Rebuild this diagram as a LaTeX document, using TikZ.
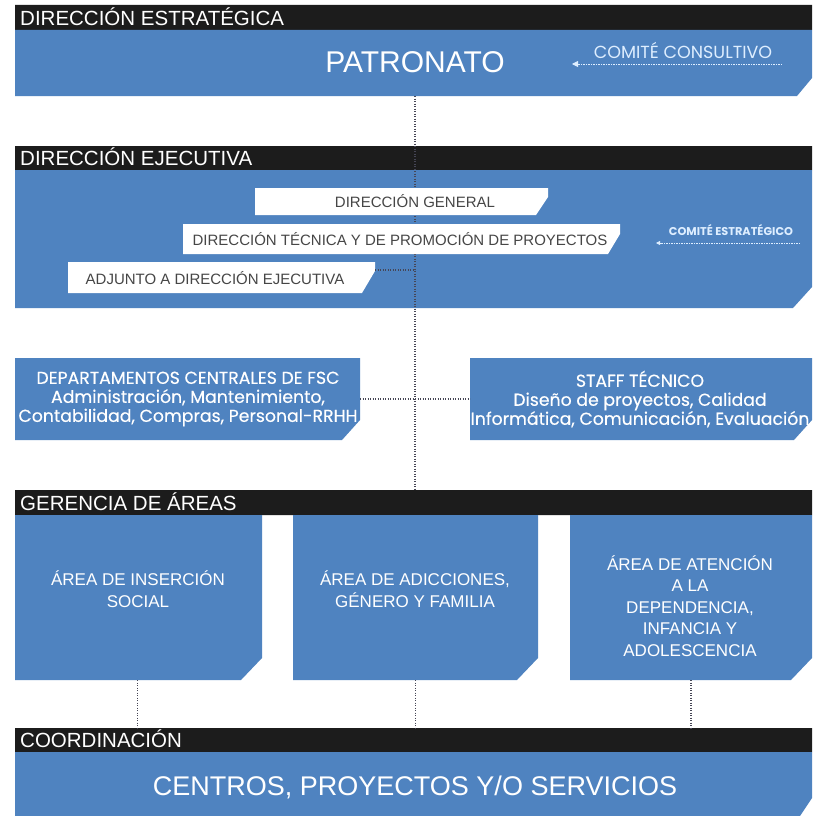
\documentclass[tikz,border=0pt]{standalone}
\usepackage{fontspec}
\setmainfont{Poppins}
\newfontfamily\hdr{Liberation Sans}
\newfontfamily\popm[FakeBold=0.4]{Poppins}
\usetikzlibrary{fit,arrows.meta}
\definecolor{fscblue}{RGB}{79,131,192}
\definecolor{barblack}{RGB}{28,28,28}
\definecolor{txtgray}{RGB}{70,70,70}
\definecolor{paleblue}{RGB}{222,238,255}
\definecolor{dotgray}{RGB}{70,70,85}
% chamfered box: #1 fill style, #2 name, #3 x1, #4 y1, #5 x2, #6 y2, #7 chamfer x, #8 chamfer y
\newcommand\chbox[8]{%
  \fill[#1] (#3,#4) -- (#5,#4) -- ({#5},{#6-#8}) -- ({#5-#7},{#6}) -- (#3,#6) -- cycle;
  \node[fit={(#3,#4) (#5,#6)}, inner sep=0pt, outer sep=0pt] (#2) {};}
\begin{document}
\begin{tikzpicture}[x=1pt,y=-1pt,
  hdrtxt/.style={text=white, font=\hdr\fontsize{20.5}{24}\selectfont, anchor=base west, inner sep=0pt},
  wtxt/.style={text=txtgray, font=\hdr\fontsize{15}{18}\selectfont, anchor=base, inner sep=0pt},
  areatxt/.style={text=white, font=\hdr\fontsize{17}{21.5}\selectfont, align=center, inner sep=0pt},
  midtxt/.style={text=white, font=\popm\fontsize{17.3}{19}\selectfont, align=center, inner sep=0pt},
  conn/.style={draw=dotgray, line width=1.1pt, dash pattern=on 1.2pt off 1.3pt},
  cline/.style={draw=paleblue, line width=0.9pt, dash pattern=on 1.2pt off 1.3pt}
]
\useasboundingbox (0,0) rectangle (812,816);
\fill[white] (0,0) rectangle (812,816);

% ---------- Dirección estratégica
\chbox{barblack}{bar1}{15}{5}{812}{30}{0}{0}
\node[hdrtxt] (t1) at (20,25.5) {DIRECCIÓN ESTRATÉGICA};
\chbox{fscblue}{band1}{15}{30}{812}{96}{15}{18}
\node[text=white, font=\hdr\fontsize{30}{34}\selectfont, anchor=base, inner sep=0pt] (pat) at (415,72) {PATRONATO};
\node[text=paleblue, font=\fontsize{17.5}{20}\selectfont, anchor=base, inner sep=0pt] (cc) at (683,59) {COMITÉ CONSULTIVO};
\coordinate (ccR) at (782,64);
\coordinate (ccL) at (572,64);
\draw[cline, -{Triangle[length=6pt,width=6pt,fill=paleblue]}] (ccR) -- (ccL);

% ---------- Dirección ejecutiva
\chbox{barblack}{bar2}{15}{146}{812}{170}{0}{0}
\node[hdrtxt] (t2) at (20,165.5) {DIRECCIÓN EJECUTIVA};
\chbox{fscblue}{band2}{15}{170}{812}{308}{19}{21}

% spine (drawn before white boxes)
\coordinate (spineTop) at (band1.south -| pat.base);
\coordinate (spineBot) at (pat.base |- 0,490);
\draw[conn] (spineTop) -- (spineBot);

\chbox{white}{dg}{255}{188}{548}{215}{12}{18}
\node[wtxt] (dgt) at (415,207) {DIRECCIÓN GENERAL};
\chbox{white}{dt}{183}{224}{620}{254}{12}{20}
\node[wtxt] (dtt) at (400,245) {DIRECCIÓN TÉCNICA Y DE PROMOCIÓN DE PROYECTOS};
\chbox{white}{adj}{68}{262}{375}{293}{13}{22}
\node[wtxt] (adjt) at (215,284) {ADJUNTO A DIRECCIÓN EJECUTIVA};
\draw[conn] ([yshift=-8pt]adj.north east) -- ([yshift=-8pt]adj.north east -| spineTop);

\node[text=paleblue, font=\bfseries\fontsize{11.3}{13}\selectfont, anchor=base, inner sep=0pt] (ce) at (731,235) {COMITÉ ESTRATÉGICO};
\coordinate (ceR) at (800,243);
\coordinate (ceL) at (656,243);
\draw[cline, -{Triangle[length=4pt,width=4pt,fill=paleblue]}] (ceR) -- (ceL);

% ---------- Departamentos / Staff
\chbox{fscblue}{dep}{15}{358}{360}{440}{18}{20}
\chbox{fscblue}{staff}{470}{358}{812}{440}{18}{20}
\node[midtxt] (dept) at (188,399) {DEPARTAMENTOS CENTRALES DE FSC\\Administración, Mantenimiento,\\Contabilidad, Compras, Personal-RRHH};
\node[midtxt] (stafft) at (640,399) {STAFF TÉCNICO\\Diseño de proyectos, Calidad\\Informática, Comunicación, Evaluación};
\draw[conn] (dep.east) -- (staff.west);

% ---------- Gerencia de áreas
\chbox{barblack}{bar3}{15}{490}{812}{515}{0}{0}
\node[hdrtxt] (t3) at (20,510) {GERENCIA DE ÁREAS};
\chbox{fscblue}{a1}{15}{515}{262}{680}{21}{22}
\chbox{fscblue}{a2}{293}{515}{538}{680}{21}{22}
\chbox{fscblue}{a3}{570}{515}{812}{680}{21}{22}
\node[areatxt] (a1t) at (138,589) {ÁREA DE INSERCIÓN\\SOCIAL};
\node[areatxt] (a2t) at (415,589) {ÁREA DE ADICCIONES,\\GÉNERO Y FAMILIA};
\node[areatxt] (a3t) at (690,606) {ÁREA DE ATENCIÓN\\A LA\\DEPENDENCIA,\\INFANCIA Y\\ADOLESCENCIA};

% ---------- Coordinación
\chbox{barblack}{bar4}{15}{728}{812}{752}{0}{0}
\node[hdrtxt] (t4) at (20,747.5) {COORDINACIÓN};
\chbox{fscblue}{band4}{15}{752}{812}{816}{12}{18}
\node[text=white, font=\hdr\fontsize{27}{32}\selectfont, anchor=base, inner sep=0pt] (cps) at (415,795) {CENTROS, PROYECTOS Y/O SERVICIOS};

\draw[conn] ([xshift=-1pt]a1.south) -- ([xshift=-1pt]a1.south |- bar4.north);
\draw[conn] (a2.south) -- (a2.south |- bar4.north);
\draw[conn] (a3.south) -- (a3.south |- bar4.north);
\end{tikzpicture}
\end{document}
